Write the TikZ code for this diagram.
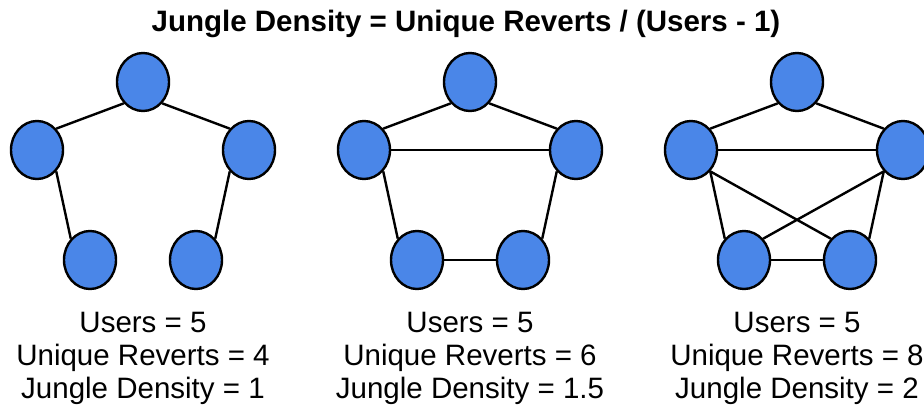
\documentclass[tikz,border=0pt]{standalone}
\usepackage{fontspec}
\setmainfont{Liberation Sans}
\usetikzlibrary{shapes.geometric}

\definecolor{userblue}{HTML}{4A86E8}

\begin{document}
\begin{tikzpicture}[x=1pt,y=-1pt,
        user/.style={ellipse,draw=black,fill=userblue,line width=2.4pt,minimum width=52pt,minimum height=58pt,inner sep=0pt},
        revert/.style={line width=2.4pt},
        caption/.style={anchor=base,font=\fontsize{29.5}{33}\selectfont}]
    \useasboundingbox (0,0) rectangle (924,409);
    \node[caption,font=\fontsize{29.5}{33}\selectfont\bfseries] (title) at (466,32) {Jungle Density = Unique Reverts / (Users - 1)};
    % name / x of top user / reverts between users / counts
    \foreach \g/\cx/\edges/\rev/\dens in {
            a/143/{t.south west/l.north east,t.south east/r.north west,
                   l.south east/bl.north west,r.south west/br.north east}/4/1,
            b/470/{t.south west/l.north east,t.south east/r.north west,l.east/r.west,
                   l.south east/bl.north west,r.south west/br.north east,bl.east/br.west}/6/1.5,
            c/797/{t.south west/l.north east,t.south east/r.north west,l.east/r.west,
                   l.south east/bl.north west,r.south west/br.north east,bl.east/br.west,
                   l.south east/br.north west,r.south west/bl.north east}/8/2} {
        \node[user] (\g-t) at (\cx,82) {};
        \node[user] (\g-l) at (\cx-106,150) {};
        \node[user] (\g-r) at (\cx+106,150) {};
        \node[user] (\g-bl) at (\cx-53,260) {};
        \node[user] (\g-br) at (\cx+53,260) {};
        \foreach \p/\q in \edges
            \draw[revert] (\g-\p) -- (\g-\q);
        \node[caption] (\g-users) at (\cx,332) {Users = 5};
        \node[caption] (\g-reverts) at (\cx,365) {Unique Reverts = \rev};
        \node[caption] (\g-density) at (\cx,398) {Jungle Density = \dens};
    }
\end{tikzpicture}
\end{document}
